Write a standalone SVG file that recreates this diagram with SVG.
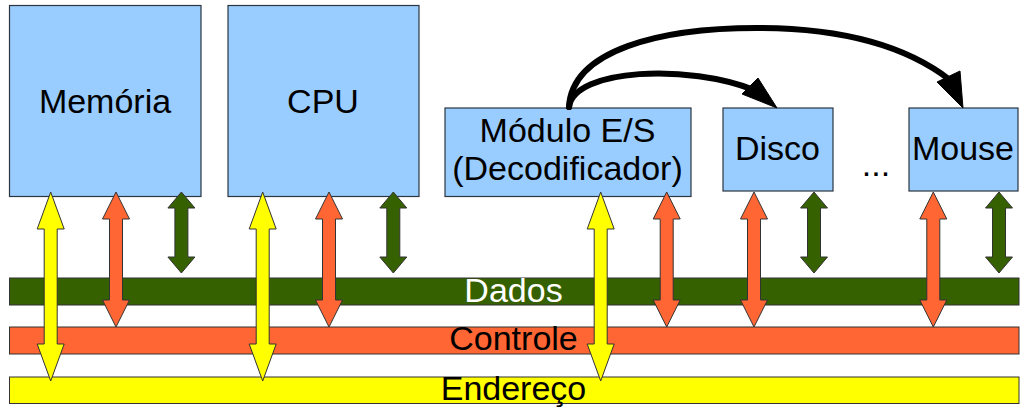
<svg xmlns="http://www.w3.org/2000/svg" xmlns:xlink="http://www.w3.org/1999/xlink" width="1024" height="410" viewBox="0 0 1024 410">
<style>
text{font-family:"Liberation Sans",Arial,sans-serif;font-size:34px;text-anchor:middle;fill:#000}
.box{fill:#99ccff;stroke:#2b3540;stroke-width:1.2}
.bar{stroke:#333;stroke-width:1}
.dados{fill:#366100}
.ctrl{fill:#ff6633}
.end{fill:#ffff00}
.arr{stroke:#333;stroke-width:1;stroke-linejoin:miter}
.curve{fill:none;stroke:#000;stroke-width:6;stroke-linecap:round}
.head{fill:#000;stroke:#000;stroke-width:1;stroke-linejoin:round}
</style>
<defs>
<polygon id="ay" class="arr end" points="0,0 13.5,37 6.5,37 6.5,152 13.5,152 0,189 -13.5,152 -6.5,152 -6.5,37 -13.5,37"/>
<polygon id="ao" class="arr ctrl" points="0,0 13.5,27 6.5,27 6.5,108 13.5,108 0,135 -13.5,108 -6.5,108 -6.5,27 -13.5,27"/>
<polygon id="ag" class="arr dados" points="0,0 13.5,16 6.5,16 6.5,65 13.5,65 0,81 -13.5,65 -6.5,65 -6.5,16 -13.5,16"/>
</defs>
<rect width="1024" height="410" fill="#fff"/>
<g id="bus-dados">
<rect class="bar dados" x="9.5" y="278" width="1009.5" height="27"/>
<text x="513.5" y="301.5" style="fill:#fff">Dados</text>
</g>
<g id="bus-controle">
<rect class="bar ctrl" x="9.5" y="327" width="1009.5" height="27"/>
<text x="513.5" y="350">Controle</text>
</g>
<g id="bus-endereco">
<rect class="bar end" x="9.5" y="377" width="1009.5" height="26.5"/>
<text x="513.5" y="400">Endereço</text>
</g>
<g id="memoria">
<rect class="box" x="9.5" y="5.5" width="191.5" height="191"/>
<text x="105" y="113">Memória</text>
</g>
<g id="cpu">
<rect class="box" x="228" y="5.5" width="191" height="191"/>
<text x="323" y="113">CPU</text>
</g>
<g id="modulo">
<rect class="box" x="445" y="108" width="246" height="88.5"/>
<text x="567.5" y="142">Módulo E/S</text>
<text x="567.5" y="180">(Decodificador)</text>
</g>
<g id="disco">
<rect class="box" x="723" y="108" width="110" height="83"/>
<text x="777.5" y="160">Disco</text>
</g>
<g id="ellipsis">
<text x="876" y="176">...</text>
</g>
<g id="mouse">
<rect class="box" x="909" y="108" width="109" height="83"/>
<text x="963" y="160">Mouse</text>
</g>
<g id="connectors">
<use xlink:href="#ay" x="50.7" y="192"/>
<use xlink:href="#ao" x="116" y="192"/>
<use xlink:href="#ag" x="181.4" y="192"/>
<use xlink:href="#ay" x="262.7" y="192"/>
<use xlink:href="#ao" x="329" y="192"/>
<use xlink:href="#ag" x="393.3" y="192"/>
<use xlink:href="#ay" x="600.7" y="192"/>
<use xlink:href="#ao" x="666.7" y="192"/>
<use xlink:href="#ao" x="754" y="192"/>
<use xlink:href="#ag" x="814" y="192"/>
<use xlink:href="#ao" x="933.3" y="192"/>
<use xlink:href="#ag" x="999" y="192"/>
<path class="curve" d="M569,107 C574,68 690,64 754,90"/>
<polygon class="head" points="777,108 742,94 758,78"/>
<path class="curve" d="M569,107 C572,50 660,28 757,28 C840,28 905,45 950,80"/>
<polygon class="head" points="963,108 937,82 960,71"/>
</g>
</svg>
